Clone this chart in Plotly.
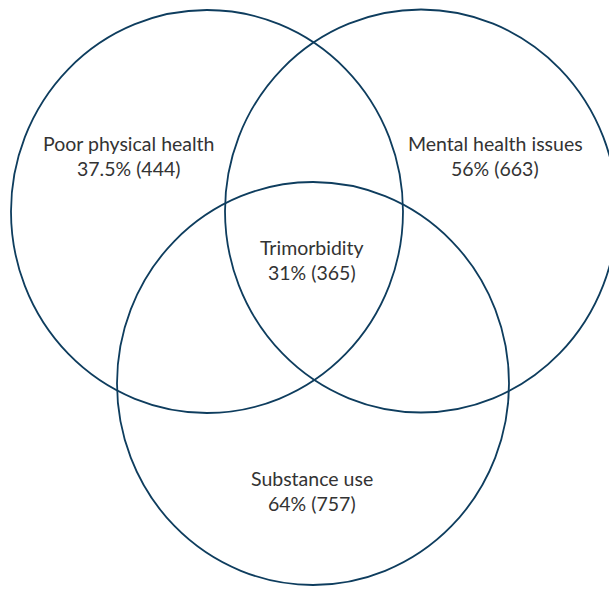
import plotly.graph_objects as go

# ---- data ----
set_names = ["Poor physical health", "Mental health issues", "Substance use"]
set_pct = [37.5, 56, 64]
set_counts = [444, 663, 757]
core_name = "Trimorbidity"
core_pct = 31
core_count = 365

# ---- layout geometry (pixel space) ----
W, H = 609, 590
circle_centers = [(207.0, 211.5), (421.0, 211.0), (313.0, 383.5)]
rx, ry = 196.0, 201.5
label_pos = [(128.5, 143), (495.0, 143), (312.0, 478)]
core_pos = (311.5, 247)
line_gap = 25
line_color = "#0e3d5e"
text_color = "#333333"
font_family = "Lato, 'Open Sans', sans-serif"
font_size = 19.5

fig = go.Figure()
fig.add_trace(go.Scatter(x=[0, W], y=[0, H], mode="markers",
                         marker=dict(opacity=0), hoverinfo="skip", showlegend=False))

for (cx, cy) in circle_centers:
    fig.add_shape(type="circle", xref="x", yref="y",
                  x0=cx - rx, x1=cx + rx, y0=cy - ry, y1=cy + ry,
                  line=dict(color=line_color, width=1.8), fillcolor="rgba(0,0,0,0)")

def fmt(p, n):
    return f"{p:g}% ({n})"

labels = [(set_names[i], fmt(set_pct[i], set_counts[i]), label_pos[i]) for i in range(3)]
labels.append((core_name, fmt(core_pct, core_count), core_pos))

for name, val, (x, y) in labels:
    for k, t in enumerate([name, val]):
        fig.add_annotation(x=x, y=y + k * line_gap, xref="x", yref="y", text=t,
                           showarrow=False, xanchor="center", yanchor="middle",
                           font=dict(family=font_family, size=font_size, color=text_color))

fig.update_xaxes(range=[0, W], visible=False, fixedrange=True)
fig.update_yaxes(range=[H, 0], visible=False, fixedrange=True)
fig.update_layout(width=W, height=H, margin=dict(l=0, r=0, t=0, b=0),
                  paper_bgcolor="white", plot_bgcolor="white", showlegend=False)

fig.write_html("out.html", config={"displayModeBar": False},
               post_script="document.body.style.margin='0';document.body.style.overflow='hidden';")
